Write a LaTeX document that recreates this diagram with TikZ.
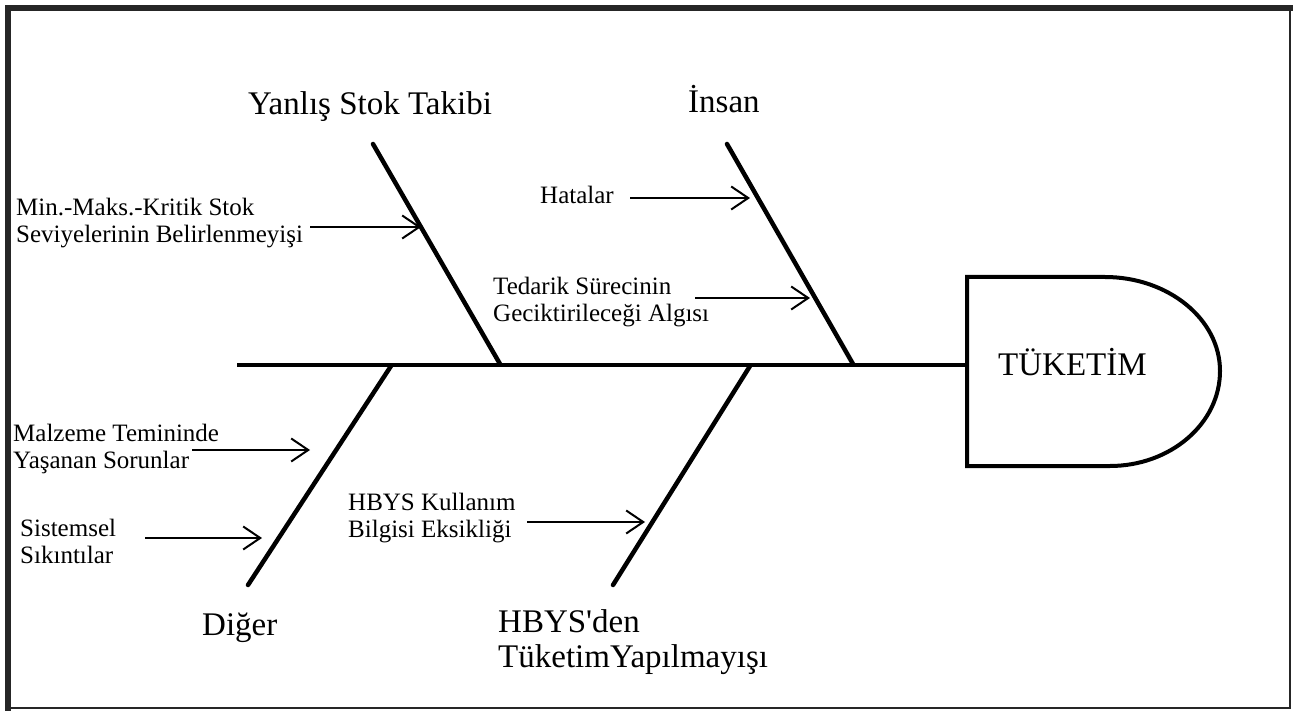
\documentclass[tikz,border=0pt]{standalone}
\usepackage{fontspec}
\setmainfont{Liberation Serif}
\usepackage{xcolor}
\usetikzlibrary{arrows.meta,calc}

\begin{document}
\begin{tikzpicture}[
			x=1pt, y=-1pt,
			bone/.style={
				line width=4.5pt,
				line cap=round
			},
			spine/.style={
				line width=4pt
			},
			cause/.style={
				-{Straight Barb[length=17pt,width=23pt,line width=2pt]},
				line width=2.2pt
			},
			category/.style={
				anchor=base west,
				inner sep=0pt,
				align=left,
				font=\fontsize{33}{35}\selectfont
			},
			reason/.style={
				anchor=base west,
				inner sep=0pt,
				align=left,
				font=\fontsize{25}{27}\selectfont
			}
			]
			
			\useasboundingbox (0,0) rectangle (1293,711);
			
			%=====================================================================
			% Frame
			%=====================================================================
			
			\draw[line width=6pt, black!85] (8,711) -- (8,8) -- (1293,8);
			\draw[line width=2pt, black!85] (1290,8) -- (1290,708) -- (8,708);
			
			%=====================================================================
			% Spine and head
			%=====================================================================
			
			\coordinate (spine-tail) at (237,365);
			\coordinate (head-left) at (967,365);
			
			\draw[spine] (spine-tail) -- (head-left);
			
			\draw[spine]
			(967,277) -- (1105,277)
			.. controls (1168,277) and (1220,319) .. (1220,371)
			.. controls (1220,424) and (1170,466) .. (1110,466)
			-- (967,466) -- cycle;
			
			\node[category] (tuketim) at (998,375) {TÜKETİM};
			
			%=====================================================================
			% Bones
			%=====================================================================
			
			\coordinate (stok-top) at (373,144);
			\coordinate (stok-foot) at (500,364);
			\coordinate (insan-top) at (727,144);
			\coordinate (insan-foot) at (853,364);
			\coordinate (diger-top) at (391,366);
			\coordinate (diger-foot) at (248,585);
			\coordinate (hbys-top) at (750,366);
			\coordinate (hbys-foot) at (613,585);
			
			\draw[bone] (stok-top) -- (stok-foot);
			\draw[bone] (insan-top) -- (insan-foot);
			\draw[bone] (diger-top) -- (diger-foot);
			\draw[bone] (hbys-top) -- (hbys-foot);
			
			\node[category] (stok) at (248,115) {Yanlış Stok Takibi};
			\node[category] (insan) at (688,113) {İnsan};
			\node[category] (diger) at (202,635) {Diğer};
			\node[category] (hbys) at (498,667)
			{HBYS\textquotesingle den\\TüketimYapılmayışı};
			
			%=====================================================================
			% Causes
			%=====================================================================
			
			\node[reason] (minmaks) at (16,243)
			{Min.-Maks.-Kritik Stok\\Seviyelerinin Belirlenmeyişi};
			\node[reason] (hatalar) at (540,204) {Hatalar};
			\node[reason] (tedarik) at (493,322)
			{Tedarik Sürecinin\\Geciktirileceği Algısı};
			\node[reason] (malzeme) at (13,468)
			{Malzeme Temininde\\Yaşanan Sorunlar};
			\node[reason] (sistemsel) at (20,563)
			{Sistemsel\\Sıkıntılar};
			\node[reason] (kullanim) at (348,537)
			{HBYS Kullanım\\Bilgisi Eksikliği};
			
			\coordinate (minmaks-tail) at (310,227);
			\coordinate (minmaks-tip) at (421,227);
			\coordinate (hatalar-tail) at (630,198);
			\coordinate (hatalar-tip) at (750,198);
			\coordinate (tedarik-tail) at (695,298);
			\coordinate (tedarik-tip) at (810,298);
			\coordinate (malzeme-tail) at (192,450);
			\coordinate (malzeme-tip) at (310,450);
			\coordinate (sistemsel-tail) at (145,538);
			\coordinate (sistemsel-tip) at (262,538);
			\coordinate (kullanim-tail) at (527,522);
			\coordinate (kullanim-tip) at (645,522);
			
			\draw[cause] (minmaks-tail) -- (minmaks-tip);
			\draw[cause] (hatalar-tail) -- (hatalar-tip);
			\draw[cause] (tedarik-tail) -- (tedarik-tip);
			\draw[cause] (malzeme-tail) -- (malzeme-tip);
			\draw[cause] (sistemsel-tail) -- (sistemsel-tip);
			\draw[cause] (kullanim-tail) -- (kullanim-tip);
			
		\end{tikzpicture}
\end{document}
